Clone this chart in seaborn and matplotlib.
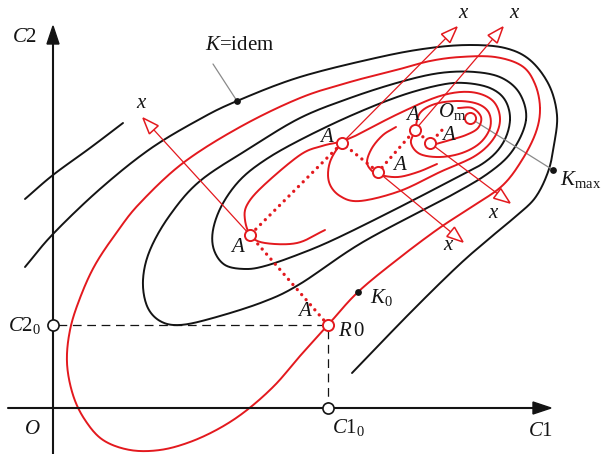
import numpy as np
import matplotlib
matplotlib.use("Agg")
import matplotlib.pyplot as plt
from matplotlib.patches import Polygon
import seaborn as sns

sns.set_theme(style="white")
plt.rcParams["font.family"] = ["Liberation Serif", "DejaVu Serif"]
plt.rcParams["mathtext.fontset"] = "custom"
plt.rcParams["mathtext.rm"] = "Liberation Serif"
plt.rcParams["mathtext.it"] = "Liberation Serif:italic"

RED = "#e3191e"
INK = "#141414"
GREY = "#8a8a8a"

# ---- sketch geometry, in canvas units (x to the right, y downward) ----
# black level lines K = const
k_fragment = [(25, 199), (53, 175), (90, 148), (123, 123)]
k_idem = [(25, 267), (53, 234), (100, 189), (150, 149), (200, 119), (237, 101),
          (300, 77), (380, 57), (430, 48), (470, 45), (505, 48), (530, 60),
          (549, 85), (557, 115), (554, 145), (548, 172), (535, 198), (515, 217),
          (497, 232), (460, 264), (410, 313), (352, 373)]
k_mid = [(526, 120), (520, 94), (502, 78), (475, 72), (440, 73), (400, 82),
         (350, 98), (300, 118), (250, 148), (200, 181), (170, 215), (150, 250),
         (143, 280), (147, 306), (160, 321), (180, 325), (213, 318), (263, 302),
         (300, 284), (363, 242), (450, 196), (490, 172), (513, 150)]
k_inner = [(510, 120), (505, 100), (490, 88), (465, 83), (440, 85), (400, 96),
           (350, 116), (300, 140), (265, 160), (240, 180), (222, 205), (213, 230),
           (214, 250), (225, 265), (245, 269), (265, 266), (297, 255), (333, 240),
           (390, 212), (450, 181), (485, 162), (503, 143)]

# red level lines (the one through R0, then the ones through the A points)
r_start = [(540, 108), (535, 84), (522, 66), (495, 57), (460, 57), (430, 61),
           (400, 69), (350, 82), (300, 98), (240, 127), (183, 163), (140, 203),
           (117, 232), (95, 265), (80, 298), (70, 330), (67, 363), (73, 395),
           (85, 420), (103, 440), (130, 450), (160, 450), (190, 442), (220, 428),
           (247, 410), (275, 385), (300, 356), (328, 325), (358, 292), (398, 259),
           (438, 229), (470, 208), (502, 186), (522, 160), (536, 132)]
r_a1 = [(325, 230), (297, 243), (265, 243), (251, 236), (245, 220), (247, 205),
        (263, 186), (300, 155), (322, 146), (340, 142)]
r_a2 = [(342, 143), (357, 135), (400, 113), (440, 96), (470, 92), (492, 100),
        (500, 118), (494, 138), (475, 156), (440, 172), (400, 191), (360, 201),
        (340, 196), (329, 182), (330, 162)]
r_a3 = [(396, 127), (383, 135), (372, 148), (367, 162), (372, 171), (380, 175),
        (398, 177), (418, 172), (437, 164)]
r_a4 = [(415, 130), (411, 143), (420, 154), (440, 157), (462, 153), (480, 143),
        (490, 128), (489, 113), (478, 104), (458, 101), (435, 104), (420, 113)]
r_top = [(458, 108), (472, 108), (481, 117), (478, 128), (466, 135), (450, 140),
         (436, 144)]

# search path: R0 -> A -> A -> A -> A -> A -> towards O_m
path_x = [328, 250, 342, 378, 415, 430, 444]
path_y = [325, 235, 143, 172, 130, 143, 128]
optimum = (470, 118)
k_max = (553, 170)
k_zero = (358, 292)
k_idem_dot = (237, 101)

# local x axes at the A points: start point and arrow tip
x_axes = [((250, 235), (143, 118)), ((342, 143), (457, 27)),
          ((415, 130), (503, 27)), ((378, 172), (463, 242)),
          ((430, 143), (510, 203))]
x_axis_labels = [(142, 104), (464, 14), (515, 13), (449, 246), (494, 213)]

c1_0, c2_0 = 328, 325
origin = (53, 408)


def smooth(pts, closed=False, n=18):
    p = np.asarray(pts, float)
    if closed:
        p = np.vstack([p[-1], p, p[0], p[1]])
    else:
        p = np.vstack([2 * p[0] - p[1], p, 2 * p[-1] - p[-2]])
    t = np.linspace(0, 1, n, endpoint=False)[:, None]
    out = []
    for i in range(1, len(p) - 2):
        p0, p1, p2, p3 = p[i - 1], p[i], p[i + 1], p[i + 2]
        out.append(0.5 * (2 * p1 + (-p0 + p2) * t
                          + (2 * p0 - 5 * p1 + 4 * p2 - p3) * t ** 2
                          + (-p0 + 3 * p1 - 3 * p2 + p3) * t ** 3))
    out.append(p[-2][None, :])
    return np.vstack(out)


fig = plt.figure(figsize=(6.06, 4.54), dpi=100)
ax = fig.add_axes([0, 0, 1, 1])


def curve(pts, color, lw, closed=False, **kw):
    c = smooth(pts, closed)
    sns.lineplot(x=c[:, 0], y=c[:, 1], sort=False, estimator=None, ax=ax,
                 color=color, linewidth=lw, legend=False, **kw)


for pts, closed in [(k_fragment, False), (k_idem, False), (k_mid, True), (k_inner, True)]:
    curve(pts, INK, 1.4, closed, zorder=2)
for pts, closed in [(r_start, True), (r_a1, False), (r_a2, True), (r_a3, False),
                    (r_a4, True), (r_top, False)]:
    curve(pts, RED, 1.4, closed, zorder=3)

# coordinate axes
ax.plot([origin[0], origin[0]], [454, 42], color=INK, lw=1.5, zorder=4)
ax.plot([8, 536], [origin[1], origin[1]], color=INK, lw=1.5, zorder=4)
ax.add_patch(Polygon([(53, 26), (47, 44), (59, 44)], closed=True, fc=INK, ec=INK, zorder=4))
ax.add_patch(Polygon([(551, 408), (533, 402), (533, 414)], closed=True, fc=INK, ec=INK, zorder=4))

# projections of R0 on the axes
ax.plot([origin[0] + 5, c1_0 - 5], [c2_0, c2_0], color=INK, lw=0.9,
        dashes=(7, 4.5), zorder=2)
ax.plot([c1_0, c1_0], [c2_0 + 5, origin[1] - 5], color=INK, lw=0.9,
        dashes=(7, 4.5), zorder=2)

# dotted search path
sns.lineplot(x=path_x, y=path_y, sort=False, estimator=None, ax=ax, color=RED,
             linewidth=2.4, linestyle=(0, (0.01, 2.0)), dash_capstyle="round",
             legend=False, zorder=4)

# local x axes with open arrow heads
for (s, tip) in x_axes:
    s = np.array(s, float); tip = np.array(tip, float)
    d = (tip - s) / np.hypot(*(tip - s))
    base = tip - 16 * d
    perp = np.array([-d[1], d[0]])
    ax.plot([s[0], base[0]], [s[1], base[1]], color=RED, lw=0.9, zorder=4)
    ax.add_patch(Polygon([tip, base + 6 * perp, base - 6 * perp], closed=True,
                         fc="white", ec=RED, lw=1.1, zorder=5))
for (lx, ly) in x_axis_labels:
    ax.text(lx, ly, "$x$", fontsize=15, ha="center", va="center", color=INK)

# leader lines
ax.plot([optimum[0], k_max[0]], [optimum[1], k_max[1]], color=GREY, lw=0.9, zorder=2)
ax.plot([213, k_idem_dot[0]], [64, k_idem_dot[1]], color=GREY, lw=0.9, zorder=2)

# small marker dots
sns.scatterplot(x=[k_max[0], k_zero[0], k_idem_dot[0]], y=[k_max[1], k_zero[1], k_idem_dot[1]],
                ax=ax, s=24, color=INK, edgecolor=INK, linewidth=0, zorder=6, legend=False)

# open circles on the path and at the optimum
sns.scatterplot(x=path_x[:6] + [optimum[0]], y=path_y[:6] + [optimum[1]], ax=ax,
                s=64, color="white", edgecolor=RED, linewidth=1.4, zorder=7, legend=False)
sns.scatterplot(x=[origin[0], c1_0], y=[c2_0, origin[1]], ax=ax, s=64, color="white",
                edgecolor=INK, linewidth=1.2, zorder=7, legend=False)

# labels
fs = 15
labels = [
    (25, 38, "$C2$"), (240, 46, "$K$=idem"), (32, 430, "$O$"), (541, 432, "$C1$"),
    (25, 325, "$C2_0$"), (349, 427, "$C1_0$"), (351, 332, r"$R\,0$"),
    (381, 298, "$K_0$"), (581, 180, r"$K_{\max}$"), (452, 112, r"$O_{\rm m}$"),
    (238, 247, "$A$"), (327, 138, "$A$"), (400, 165, "$A$"), (413, 116, "$A$"),
    (449, 135, "$A$"), (305, 312, "$A$"),
]
for (lx, ly, s) in labels:
    ax.text(lx, ly, s, fontsize=fs, ha="center", va="center", color=INK, zorder=8)

ax.set_xlim(0, 606)
ax.set_ylim(454, 0)
ax.axis("off")
fig.savefig("out.png", dpi=100, facecolor="white")
